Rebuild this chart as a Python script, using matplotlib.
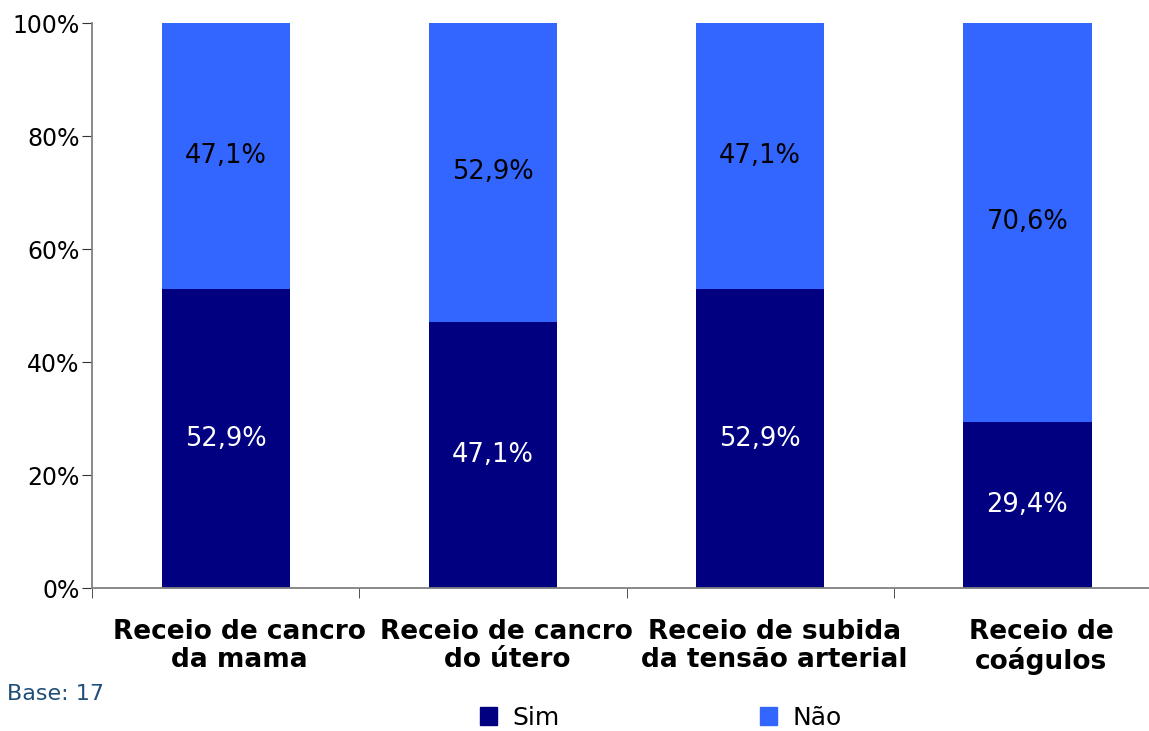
"""Stacked 100% bars: receios (Sim / Não)."""
import matplotlib
matplotlib.use("Agg")
import matplotlib.pyplot as plt
import matplotlib.transforms as mtransforms
import numpy as np
from matplotlib.patches import Patch

categories = [
    "Receio de cancro\nda mama",
    "Receio de cancro\ndo útero",
    "Receio de subida\nda tensão arterial",
    "Receio de\ncoágulos",
]
sim = [52.9, 47.1, 52.9, 29.4]
nao = [47.1, 52.9, 47.1, 70.6]
yticks = [0, 20, 40, 60, 80, 100]

SIM_C = "#000080"
NAO_C = "#3366FF"
GRID = "#808080"

plt.rcParams["font.family"] = ["DejaVu Sans"]

fig = plt.figure(figsize=(11.49, 7.31), dpi=100)
ax = fig.add_axes([0.0801, 0.1956, 0.9304, 0.7729])

x = np.arange(len(categories))
ax.bar(x, sim, width=0.48, color=SIM_C)
ax.bar(x, nao, width=0.48, bottom=sim, color=NAO_C)

for i in range(len(categories)):
    ax.text(x[i], sim[i] / 2, f"{sim[i]:.1f}%".replace(".", ","),
            ha="center", va="center", color="white", fontsize=18.5)
    ax.text(x[i], sim[i] + nao[i] / 2, f"{nao[i]:.1f}%".replace(".", ","),
            ha="center", va="center", color="black", fontsize=18.5)

ax.set_xlim(-0.5, len(categories) - 0.5)
ax.set_ylim(0, 100)
ax.set_yticks(yticks)
ax.set_yticklabels([f"{v}%" for v in yticks], fontsize=17)
ax.set_xticks(x)
ax.set_xticklabels(categories, fontsize=19, fontweight="bold", linespacing=1.1)
ax.set_xticks(np.arange(len(categories) + 1) - 0.5, minor=True)
ax.tick_params(axis="x", which="major", length=0, pad=22)
ax.tick_params(axis="x", which="minor", length=7, color="#333333", direction="out")
ax.tick_params(axis="y", length=7, color="#333333", direction="out", pad=2)

# category labels sit a bit right of the bar centres in the original
shift = mtransforms.ScaledTranslation(0.14, 0, fig.dpi_scale_trans)
for lbl in ax.get_xticklabels():
    lbl.set_transform(lbl.get_transform() + shift)

for s in ("top", "right"):
    ax.spines[s].set_visible(False)
for s in ("left", "bottom"):
    ax.spines[s].set_color(GRID)
    ax.spines[s].set_linewidth(1.3)

fig.text(0.006, 0.050, "Base: 17", color="#1F4E79", fontsize=16,
         ha="left", va="center")

handles = [Patch(color=SIM_C, label="Sim"), Patch(color=NAO_C, label="Não")]
fig.legend(handles=handles, loc="center", bbox_to_anchor=(0.575, 0.018),
           ncol=2, frameon=False, fontsize=18, handlelength=0.7,
           handleheight=0.7, handletextpad=0.6, columnspacing=8.0)

fig.savefig("out.png", dpi=100)
